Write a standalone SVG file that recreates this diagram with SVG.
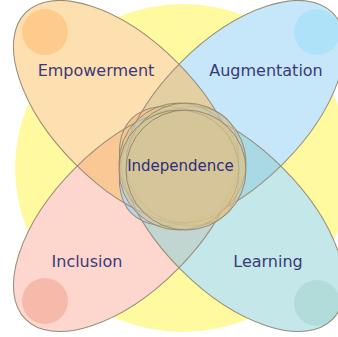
<svg xmlns="http://www.w3.org/2000/svg" width="338" height="337" viewBox="0 0 338 337">
  <style>
    .label { font-family: "DejaVu Sans", "Verdana", sans-serif; font-size: 16px; fill: #3A3A78; text-anchor: middle; }
    .outline { fill: none; stroke: #978D7A; stroke-width: 1; }
    .ring { fill: #D6C496; fill-opacity: 0.6; stroke: #8B7E64; stroke-opacity: 0.85; stroke-width: 1; }
  </style>
  <defs>
    <ellipse id="shapeE" cx="126" cy="113" rx="142" ry="72" transform="rotate(45 126 113)"/>
    <ellipse id="shapeA" cx="232" cy="113" rx="142" ry="72" transform="rotate(-45 232 113)"/>
    <ellipse id="shapeI" cx="126" cy="219" rx="142" ry="72" transform="rotate(-45 126 219)"/>
    <ellipse id="shapeL" cx="232" cy="219" rx="142" ry="72" transform="rotate(45 232 219)"/>
    <clipPath id="clipE"><use href="#shapeE"/></clipPath>
    <clipPath id="clipA"><use href="#shapeA"/></clipPath>
    <clipPath id="clipI"><use href="#shapeI"/></clipPath>
  </defs>

  <g id="background">
    <ellipse cx="183" cy="168" rx="168" ry="164" fill="#FFFA9F"/>
  </g>

  <g id="empowerment">
    <use href="#shapeE" fill="#FEDFB0"/>
    <circle cx="45" cy="32" r="23" fill="#FECB8D"/>
    <text class="label" x="96" y="76">Empowerment</text>
  </g>
  <g id="augmentation">
    <use href="#shapeA" fill="#C6E6F9"/>
    <circle cx="317" cy="32" r="23" fill="#AEE2F8"/>
    <text class="label" x="266" y="76">Augmentation</text>
  </g>
  <g id="inclusion">
    <use href="#shapeI" fill="#FDD6CE"/>
    <circle cx="45" cy="301" r="23" fill="#F6BAAA"/>
    <text class="label" x="87" y="267">Inclusion</text>
  </g>
  <g id="learning">
    <use href="#shapeL" fill="#C4E7EA"/>
    <circle cx="317" cy="303" r="23" fill="#B2DCDA"/>
    <text class="label" x="268" y="267">Learning</text>
  </g>

  <g id="overlaps">
    <use href="#shapeA" fill="#E3CFA1" clip-path="url(#clipE)"/>
    <use href="#shapeI" fill="#F9C895" clip-path="url(#clipE)"/>
    <use href="#shapeL" fill="#A8D9E5" clip-path="url(#clipA)"/>
    <use href="#shapeL" fill="#C1D5D1" clip-path="url(#clipI)"/>
    <use href="#shapeL" fill="#F0C793" clip-path="url(#clipE)"/>
    <use href="#shapeI" fill="#BBD3EE" clip-path="url(#clipA)"/>
  </g>

  <g id="connectors">
    <use href="#shapeE" class="outline"/>
    <use href="#shapeA" class="outline"/>
    <use href="#shapeI" class="outline"/>
    <use href="#shapeL" class="outline"/>
  </g>

  <g id="independence">
    <circle class="ring" cx="179" cy="163" r="60"/>
    <circle class="ring" cx="186" cy="163" r="60"/>
    <circle class="ring" cx="179" cy="170" r="60"/>
    <circle class="ring" cx="186" cy="170" r="60"/>
    <text class="label" x="180.5" y="171" style="font-size:15px; fill:#2E2E7C">Independence</text>
  </g>
</svg>
